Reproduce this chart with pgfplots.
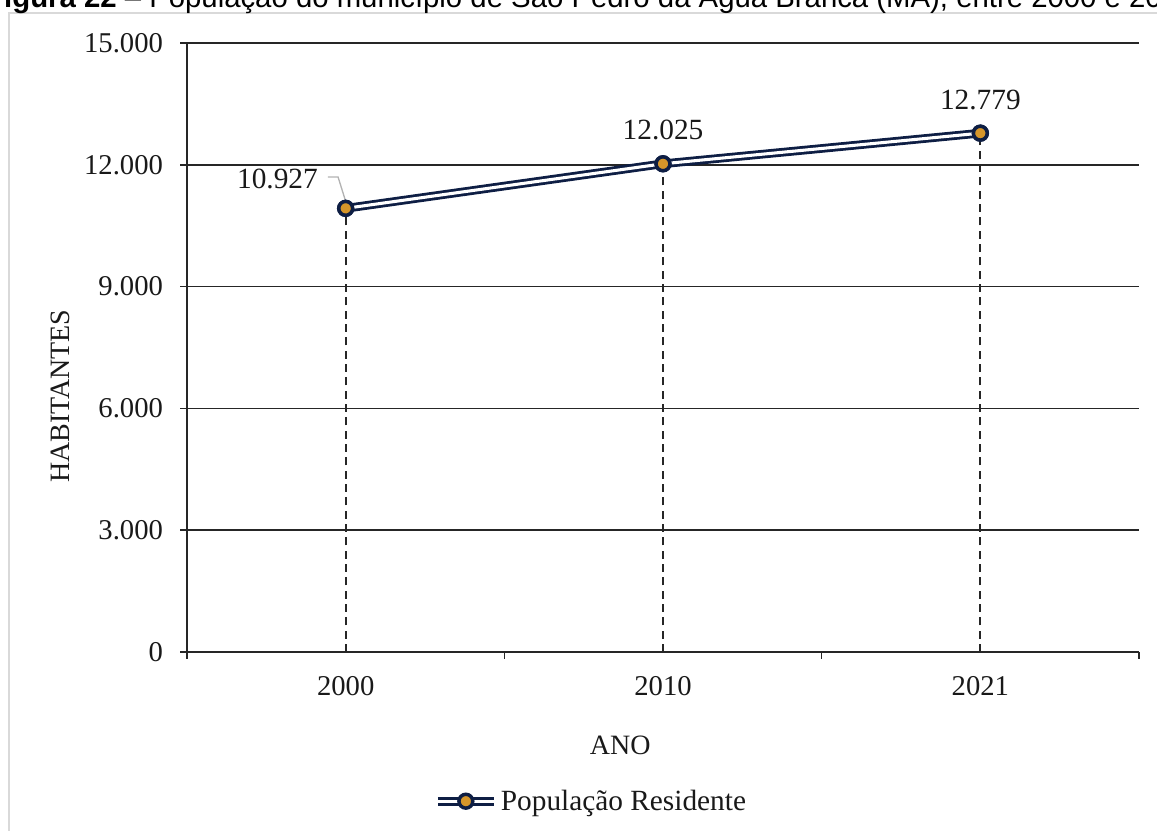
\documentclass[border=0pt]{standalone}
\usepackage{pgfplots}
\pgfplotsset{compat=1.18}
\usepackage{fontspec}
\setmainfont{Liberation Serif}
\newfontfamily\titlefont{Liberation Sans}
\definecolor{navy}{RGB}{14,30,68}
\definecolor{gold}{RGB}{214,150,42}
\definecolor{framegray}{RGB}{217,217,217}
\begin{document}
\begin{tikzpicture}
\path[use as bounding box, clip] (0pt,0pt) rectangle (867.75pt,623.25pt);
% chart frame
\draw[framegray, line width=1.5pt] (6.75pt,-20pt) -- (6.75pt,613.5pt) -- (900pt,613.5pt);
% cut-off title
\node[anchor=base west, inner sep=0pt, font=\titlefont\fontsize{22}{26}\selectfont] at (-10.5pt,617.5pt) {\textbf{Figura 22} – População do município de São Pedro da Água Branca (MA), entre 2000 e 2021};
\begin{axis}[
  at={(140.25pt,134.25pt)}, anchor=south west,
  scale only axis, width=714pt, height=456.75pt,
  xmin=0, xmax=3, ymin=0, ymax=15000,
  axis x line=bottom, axis y line=left,
  axis line style={-, black!85, line width=1.2pt},
  xtick={0,1,2,3}, xticklabels={},
  extra x ticks={0.5,1.5,2.5},
  extra x tick labels={2000,2010,2021},
  extra x tick style={major tick length=0pt, xticklabel style={yshift=-15pt}},
  ytick={0,3000,6000,9000,12000,15000},
  scaled y ticks=false,
  tick align=outside,
  major tick length=5pt,
  tick style={black!85, line width=1.2pt},
  ymajorgrids, xmajorgrids=false,
  major grid style={black!85, line width=1.2pt},
  /pgf/number format/.cd, 1000 sep={.}, assume math mode=true,
  /pgfplots/.cd,
  ticklabel style={font=\fontsize{21.5}{25}\selectfont, text=black!90},
  yticklabel style={xshift=-9.5pt},
  xlabel={ANO}, ylabel={HABITANTES},
  label style={font=\fontsize{21}{25}\selectfont, text=black!90},
  xlabel style={at={(axis description cs:0.455,-0.1527)}, anchor=center},
  ylabel style={at={(axis description cs:-0.1334,0.42)}, anchor=center},
  legend style={at={(axis description cs:0.4245,-0.245)}, anchor=center, draw=none, fill=none,
    font=\fontsize{22}{26}\selectfont, text=black!90, inner sep=0pt},
  legend cell align=left,
  legend image code/.code={%
    \draw[mark repeat=2, mark phase=2, #1] plot coordinates {(0pt,0pt) (21pt,0pt) (42pt,0pt)};},
  clip=false,
]
\addplot[navy, line width=2.1pt, double=white, double distance=2.3pt,
  mark=*, mark size=5.2pt, mark options={solid, fill=gold, draw=navy, line width=2.6pt, double=none}]
  coordinates {(0.5,10927) (1.5,12025) (2.5,12779)};
\addlegendentry{População Residente}
\addplot[ycomb, black!85, line width=1.4pt, dash pattern=on 6pt off 4pt, no marks, forget plot]
  coordinates {(0.5,10927) (1.5,12025) (2.5,12779)};
% redraw markers over dashed lines
\addplot[only marks, mark=*, mark size=5.2pt, mark options={fill=gold, draw=navy, line width=2.6pt}, forget plot]
  coordinates {(0.5,10927) (1.5,12025) (2.5,12779)};
\draw[gray!60, line width=1pt] (axis cs:0.444,11700) -- (axis cs:0.476,11700) -- (axis cs:0.5,11100);
\node[anchor=east, font=\fontsize{22}{26}\selectfont, text=black!90, inner sep=0pt] at (axis cs:0.413,11640) {10.927};
\node[anchor=center, font=\fontsize{22}{26}\selectfont, text=black!90, inner sep=0pt] at (axis cs:1.5,12857) {12.025};
\node[anchor=center, font=\fontsize{22}{26}\selectfont, text=black!90, inner sep=0pt] at (axis cs:2.5,13596) {12.779};
\end{axis}
\end{tikzpicture}
\end{document}
